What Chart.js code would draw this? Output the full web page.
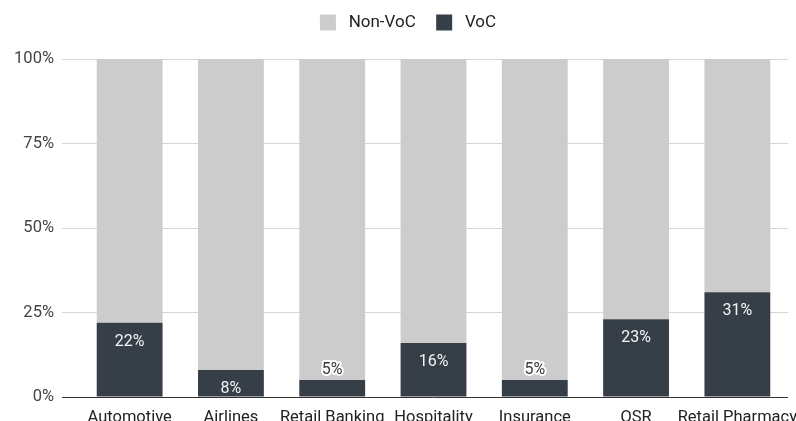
<!DOCTYPE html>
<html>
<head>
<meta charset="utf-8">
<script src="https://cdn.jsdelivr.net/npm/chart.js@4"></script>
<style>
  html, body { margin: 0; padding: 0; background: #fff; overflow: hidden; }
  #wrap { width: 840px; height: 421px; position: relative; }
</style>
</head>
<body>
<div id="wrap"><canvas id="c"></canvas></div>
<script>
const categories = ["Automotive", "Airlines", "Retail Banking", "Hospitality", "Insurance", "QSR", "Retail Pharmacy"];
const vocValues = [22, 8, 5, 16, 5, 23, 31];
const nonVocValues = [78, 92, 95, 84, 95, 77, 69];
const yTicks = [0, 25, 50, 75, 100];

const FONT = "Roboto, 'Noto Sans', sans-serif";

const barLabels = {
  id: 'barLabels',
  afterDatasetsDraw(chart) {
    const ctx = chart.ctx;
    const meta = chart.getDatasetMeta(0);
    ctx.save();
    ctx.font = "16px " + FONT;
    ctx.textAlign = 'center';
    ctx.textBaseline = 'middle';
    meta.data.forEach((bar, i) => {
      const v = chart.data.datasets[0].data[i];
      const txt = v + '%';
      const h = bar.base - bar.y;
      if (h > 22) {
        ctx.fillStyle = '#f4f4f4';
        ctx.fillText(txt, bar.x, bar.y + 19);
      } else {
        ctx.lineWidth = 4;
        ctx.lineJoin = 'round';
        ctx.strokeStyle = '#ffffff';
        ctx.strokeText(txt, bar.x, bar.y - 10);
        ctx.fillStyle = '#3a3a3a';
        ctx.fillText(txt, bar.x, bar.y - 10);
      }
    });
    ctx.restore();
  }
};

const legendMargin = {
  id: 'legendMargin',
  beforeInit(chart) {
    const lg = chart.legend;
    if (!lg) return;
    const fit = lg.fit;
    lg.fit = function () { fit.call(this); this.height += 18; };
  },
  afterLayout(chart) {
    if (chart.legend) chart.legend.left += 28;
  }
};

new Chart(document.getElementById('c'), {
  type: 'bar',
  data: {
    labels: categories,
    datasets: [
      { label: 'VoC', data: vocValues, backgroundColor: '#363e48', borderWidth: 0,
        categoryPercentage: 1, barPercentage: 0.65 },
      { label: 'Non-VoC', data: nonVocValues, backgroundColor: '#cccccc', borderWidth: 0,
        categoryPercentage: 1, barPercentage: 0.65 }
    ]
  },
  options: {
    responsive: true,
    maintainAspectRatio: false,
    animation: false,
    layout: { padding: { top: 2, right: 52, left: 0, bottom: 0 } },
    plugins: {
      legend: {
        reverse: true,
        position: 'top',
        labels: {
          boxWidth: 16, boxHeight: 16, padding: 12,
          color: '#222', font: { family: FONT, size: 17 },
          generateLabels(chart) {
            const items = Chart.defaults.plugins.legend.labels.generateLabels(chart);
            items.forEach(it => {
              it.text = ' ' + it.text + (it.datasetIndex === 1 ? '  ' : '');
            });
            return items;
          }
        }
      },
      tooltip: { enabled: false }
    },
    scales: {
      x: {
        stacked: true,
        grid: { display: false, drawTicks: false },
        border: { display: false },
        ticks: { color: '#222', font: { family: FONT, size: 16.5 }, padding: 11, maxRotation: 0, autoSkip: false },
        afterFit(s) { s.height = 24; }
      },
      y: {
        stacked: true,
        min: 0, max: 100,
        afterBuildTicks(s) { s.ticks = yTicks.map(v => ({ value: v })); },
        grid: {
          color: (c) => (c.tick && c.tick.value === 0) ? '#333333' : '#d6d6d6',
          lineWidth: 1,
          drawTicks: true,
          tickLength: 17
        },
        border: { display: false },
        ticks: {
          color: '#444', font: { family: FONT, size: 16.5 }, padding: 8,
          callback: (v) => v + '%'
        },
        afterFit(s) { s.width = 79; }
      }
    }
  },
  plugins: [barLabels, legendMargin]
});
</script>
</body>
</html>
